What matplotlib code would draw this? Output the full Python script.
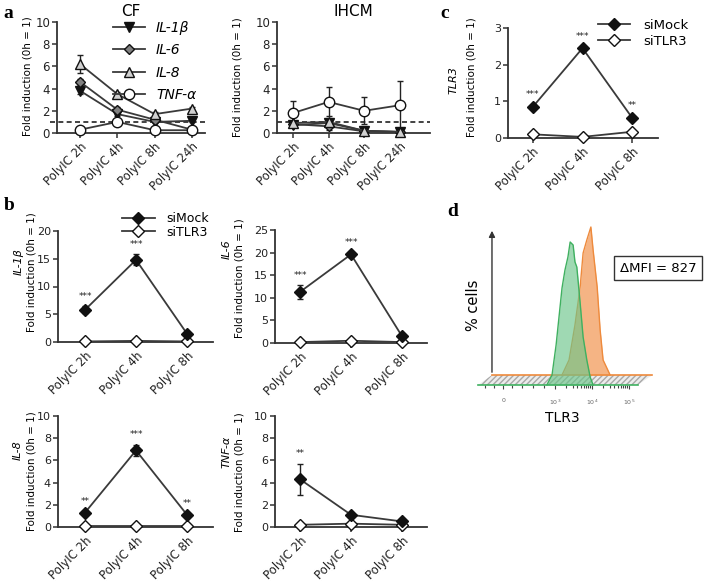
import numpy as np
import matplotlib.pyplot as plt
from matplotlib.patches import Polygon

W, H = 708, 584
plt.rcParams['font.family'] = 'DejaVu Sans'

# ---- panel a: CF and IHCM time course
time4 = ['PolyIC 2h', 'PolyIC 4h', 'PolyIC 8h', 'PolyIC 24h']
genes = ['IL-1β', 'IL-6', 'IL-8', 'TNF-α']

cf_il1b = [3.8, 1.7, 1.0, 1.1]
cf_il1b_err = [0.3, 0.2, 0.1, 0.15]
cf_il6 = [4.6, 2.1, 1.2, 0.3]
cf_il6_err = [0.25, 0.2, 0.1, 0.05]
cf_il8 = [6.2, 3.5, 1.7, 2.2]
cf_il8_err = [0.8, 0.2, 0.15, 0.15]
cf_tnf = [0.3, 1.0, 0.25, 0.25]
cf_tnf_err = [0.05, 0.1, 0.05, 0.05]

ihcm_il1b = [0.7, 0.9, 0.2, 0.1]
ihcm_il1b_err = [0.2, 0.3, 0.1, 0.05]
ihcm_il6 = [0.8, 0.6, 0.15, 0.1]
ihcm_il6_err = [0.2, 0.3, 0.05, 0.05]
ihcm_il8 = [0.9, 1.0, 0.2, 0.1]
ihcm_il8_err = [0.2, 0.3, 0.1, 0.05]
ihcm_tnf = [1.8, 2.8, 2.0, 2.5]
ihcm_tnf_err = [1.1, 1.3, 1.2, 2.2]

# ---- panels b and c: siMock vs siTLR3
time3 = ['PolyIC 2h', 'PolyIC 4h', 'PolyIC 8h']

tlr3_mock = [0.85, 2.45, 0.55]
tlr3_mock_err = [0.05, 0.05, 0.05]
tlr3_si = [0.1, 0.03, 0.17]
tlr3_stars = ['***', '***', '**']

il1b_mock = [5.8, 14.8, 1.5]
il1b_mock_err = [0.6, 1.0, 0.2]
il1b_si = [0.1, 0.2, 0.1]
il1b_stars = ['***', '***', '']

il6_mock = [11.3, 19.6, 1.5]
il6_mock_err = [1.5, 0.5, 0.2]
il6_si = [0.2, 0.5, 0.2]
il6_stars = ['***', '***', '']

il8_mock = [1.3, 6.9, 1.1]
il8_mock_err = [0.1, 0.5, 0.1]
il8_si = [0.05, 0.05, 0.05]
il8_stars = ['**', '***', '**']

tnf_mock = [4.3, 1.1, 0.5]
tnf_mock_err = [1.4, 0.2, 0.1]
tnf_si = [0.2, 0.3, 0.2]
tnf_stars = ['**', '', '']

# ---- panel d: flow histograms (log10 fluorescence, height)
green_x = [2.78, 2.92, 3.03, 3.19, 3.27, 3.35, 3.41, 3.49, 3.54, 3.59, 3.68, 3.76, 3.86, 3.95, 4.03]
green_h = [0, 10, 40, 97, 115, 128, 143, 140, 123, 118, 82, 48, 25, 8, 0]
orange_x = [3.19, 3.38, 3.54, 3.68, 3.76, 3.86, 3.97, 4.03, 4.14, 4.22, 4.30, 4.49]
orange_h = [0, 15, 50, 88, 122, 135, 148, 125, 88, 45, 15, 0]
d_ticks = [1.6, 3, 4, 5]
d_ticklabels = ['0', '$10^3$', '$10^4$', '$10^5$']
d_minor = [3.30, 3.48, 3.60, 3.70, 3.78, 3.85, 3.90, 3.95,
           4.30, 4.48, 4.60, 4.70, 4.78, 4.85, 4.90, 4.95, 1.1, 1.35, 1.85, 2.1, 2.4, 2.7]
mfi_text = 'ΔMFI = 827'

fig = plt.figure(figsize=(7.08, 5.84), dpi=100)

LC = '#3a3a3a'


def add_ax(l, t, r, b):
    return fig.add_axes([l / W, 1 - b / H, (r - l) / W, (b - t) / H])


def fig_text(x, y, s, **kw):
    return fig.text(x / W, 1 - y / H, s, **kw)


def prism(ax, ymax, ystep, xlim, cats, ysize=8.5):
    ax.set_ylim(0, ymax)
    ax.set_yticks(np.arange(0, ymax + 0.01, ystep))
    ax.set_xlim(*xlim)
    ax.set_xticks(range(len(cats)))
    ax.set_xticklabels(cats, rotation=45, ha='right', rotation_mode='anchor')
    for s in ['top', 'right']:
        ax.spines[s].set_visible(False)
    for s in ['left', 'bottom']:
        ax.spines[s].set_linewidth(1.3)
        ax.spines[s].set_color('#333333')
    ax.tick_params(direction='out', length=3.5, width=1.1, colors='#333333',
                   labelsize=8.5, labelcolor='#222222', pad=1.5)
    ax.tick_params(axis='y', labelsize=ysize)
    ax.patch.set_alpha(0)


def series(ax, y, err, marker, face, ms, label=None, z=3):
    x = range(len(y))
    if err is not None:
        ax.errorbar(x, y, yerr=err, fmt='none', ecolor='#222222', elinewidth=1,
                    capsize=2.5, capthick=1, zorder=z, clip_on=False)
    ln, = ax.plot(x, y, color=LC, lw=1.3, marker=marker, mfc=face, mec='#111111',
                  mew=1, ms=ms, label=label, zorder=z + 0.5, clip_on=False)
    return ln


def stars(ax, y, err, marks):
    for i, (v, e, m) in enumerate(zip(y, err, marks)):
        if m:
            ax.annotate(m, (i, v + e), xytext=(0, 4), textcoords='offset points',
                        ha='center', va='bottom', fontsize=6.5, color='#222222')


# ---------------- panel a
a_markers = [('v', '#111111', 6.5), ('D', '#808080', 5), ('^', '#d0d0d0', 6.5), ('o', 'white', 7.5)]

ax_cf = add_ax(57, 22, 205, 133)
prism(ax_cf, 10, 2, (-0.62, 3.35), time4)
cf_sets = [(cf_il1b, cf_il1b_err), (cf_il6, cf_il6_err), (cf_il8, cf_il8_err), (cf_tnf, cf_tnf_err)]
handles = []
for (y, e), (m, f, ms), g in zip(cf_sets, a_markers, genes):
    handles.append(series(ax_cf, y, e, m, f, ms, label=g))
ax_cf.axhline(1, xmin=-0.05, xmax=1, ls=(0, (3, 2)), color='#222222', lw=1.2, clip_on=False, zorder=2)
ax_cf.set_title('CF', fontsize=11, pad=4)
ax_cf.legend(handles=handles, loc='upper left', bbox_to_anchor=(113 / W, 1 - 21 / H),
             bbox_transform=fig.transFigure, frameon=False,
             prop={'style': 'italic', 'size': 10}, handlelength=2.3, borderaxespad=0,
             borderpad=0, labelspacing=0.6, handletextpad=0.8)

ax_ih = add_ax(277, 22, 430, 133)
prism(ax_ih, 10, 2, (-0.45, 3.85), time4)
ih_sets = [(ihcm_il1b, ihcm_il1b_err), (ihcm_il6, ihcm_il6_err), (ihcm_il8, ihcm_il8_err), (ihcm_tnf, ihcm_tnf_err)]
for (y, e), (m, f, ms) in zip(ih_sets, a_markers):
    series(ax_ih, y, e, m, f, ms)
ax_ih.axhline(1, xmin=0, xmax=1, ls=(0, (3, 2)), color='#222222', lw=1.2, clip_on=False, zorder=2)
ax_ih.set_title('IHCM', fontsize=11, pad=4)

fig_text(28, 76, 'Fold induction (0h = 1)', rotation=90, fontsize=7.5, ha='center', va='center')
fig_text(237, 77, 'Fold induction (0h = 1)', rotation=90, fontsize=7.5, ha='center', va='center')


# ---------------- panels b and c
def knock(box, ymax, ystep, xlim, mock, mock_err, si, marks):
    ax = add_ax(*box)
    prism(ax, ymax, ystep, xlim, time3, ysize=8)
    h2 = series(ax, si, None, 'D', 'white', 6, label='siTLR3', z=3)
    h1 = series(ax, mock, mock_err, 'D', '#111111', 6, label='siMock', z=4)
    stars(ax, mock, mock_err, marks)
    return ax, [h1, h2]


ax_c, hc = knock((508, 28, 658, 138), 3, 1, (-0.5, 2.52), tlr3_mock, tlr3_mock_err, tlr3_si, tlr3_stars)
ax_c.legend(handles=hc, loc='upper left', bbox_to_anchor=(598 / W, 1 - 19 / H),
            bbox_transform=fig.transFigure, frameon=False, fontsize=9.5, handlelength=2.4,
            borderaxespad=0, borderpad=0, labelspacing=0.22, handletextpad=1.0)

ax_b1, hb = knock((58, 231, 213, 342), 20, 5, (-0.53, 2.51), il1b_mock, il1b_mock_err, il1b_si, il1b_stars)
ax_b1.legend(handles=hb, loc='upper left', bbox_to_anchor=(122 / W, 1 - 212 / H),
             bbox_transform=fig.transFigure, frameon=False, fontsize=9, handlelength=2.6,
             borderaxespad=0, borderpad=0, labelspacing=0.05, handletextpad=0.95)
knock((275, 230, 427, 343), 25, 5, (-0.49, 2.49), il6_mock, il6_mock_err, il6_si, il6_stars)
knock((58, 416, 213, 527), 10, 2, (-0.53, 2.51), il8_mock, il8_mock_err, il8_si, il8_stars)
knock((275, 416, 427, 527), 10, 2, (-0.49, 2.49), tnf_mock, tnf_mock_err, tnf_si, tnf_stars)

ylab = dict(rotation=90, ha='center', va='center')
fig_text(454, 80, 'TLR3', fontsize=8, style='italic', **ylab)
fig_text(472, 77, 'Fold induction (0h = 1)', fontsize=7.5, **ylab)
fig_text(19, 262, 'IL-1β', fontsize=8, style='italic', **ylab)
fig_text(31, 272, 'Fold induction (0h = 1)', fontsize=7.5, **ylab)
fig_text(227, 249, 'IL-6', fontsize=8, style='italic', **ylab)
fig_text(239, 278, 'Fold induction (0h = 1)', fontsize=7.5, **ylab)
fig_text(18, 450, 'IL-8', fontsize=8, style='italic', **ylab)
fig_text(31, 471, 'Fold induction (0h = 1)', fontsize=7.5, **ylab)
fig_text(227, 452, 'TNF-α', fontsize=8, style='italic', **ylab)
fig_text(239, 472, 'Fold induction (0h = 1)', fontsize=7.5, **ylab)

# ---------------- panel d
axd = add_ax(465, 220, 665, 405)
axd.set_xlim(0.568, 5.973)
axd.set_ylim(-20, 165)
axd.patch.set_alpha(0)
for s in ['top', 'right', 'left']:
    axd.spines[s].set_visible(False)
axd.spines['bottom'].set_position(('data', 0))
axd.spines['bottom'].set_color('none')
axd.set_yticks([])
axd.set_xticks(d_ticks)
axd.set_xticklabels(d_ticklabels)
axd.set_xticks(d_minor, minor=True)
axd.tick_params(axis='x', which='both', direction='out', length=3, width=0.8,
                colors='#444444', labelsize=4.5, labelcolor='#666666', pad=6)
axd.tick_params(axis='x', which='minor', length=2)

band = Polygon([(0.919, 0), (5.243, 0), (5.622, 10), (1.297, 10)], closed=True,
               facecolor='#ececec', edgecolor='#a8a8a8', hatch='//////', lw=0, zorder=1)
axd.add_patch(band)

axd.fill_between(orange_x, 10, [10 + h for h in orange_h], color='#f3a266', alpha=0.8, lw=0, zorder=2)
axd.plot(orange_x, [10 + h for h in orange_h], color='#ee8a3c', lw=1, zorder=3)
axd.plot([1.297, 5.622], [10, 10], color='#ee8a3c', lw=1.2, zorder=3)

axd.fill_between(green_x, 0, green_h, color='#6cc58a', alpha=0.65, lw=0, zorder=4)
axd.plot(green_x, green_h, color='#3fb060', lw=1, zorder=5)
axd.plot([0.919, 5.243], [0, 0], color='#3fb060', lw=1.2, zorder=5)

axd.annotate('', xy=(1.297, 157), xytext=(1.297, 10),
             arrowprops=dict(arrowstyle='-|>', color='#333333', lw=1, mutation_scale=9))

fig_text(473, 305, '% cells', rotation=90, fontsize=10.5, ha='center', va='center')
fig_text(562, 418, 'TLR3', fontsize=10, ha='center', va='center')
fig_text(658, 268, mfi_text, fontsize=9.5, ha='center', va='center',
         bbox=dict(boxstyle='square,pad=0.45', fc='white', ec='#333333', lw=1))

# ---------------- panel letters
for s, x, y in [('a', 8, 14), ('b', 9, 205), ('c', 445, 14), ('d', 453, 212)]:
    fig_text(x, y, s, fontsize=14, fontweight='bold', family='Liberation Serif',
             ha='center', va='center')

fig.savefig('out.png', dpi=100)
